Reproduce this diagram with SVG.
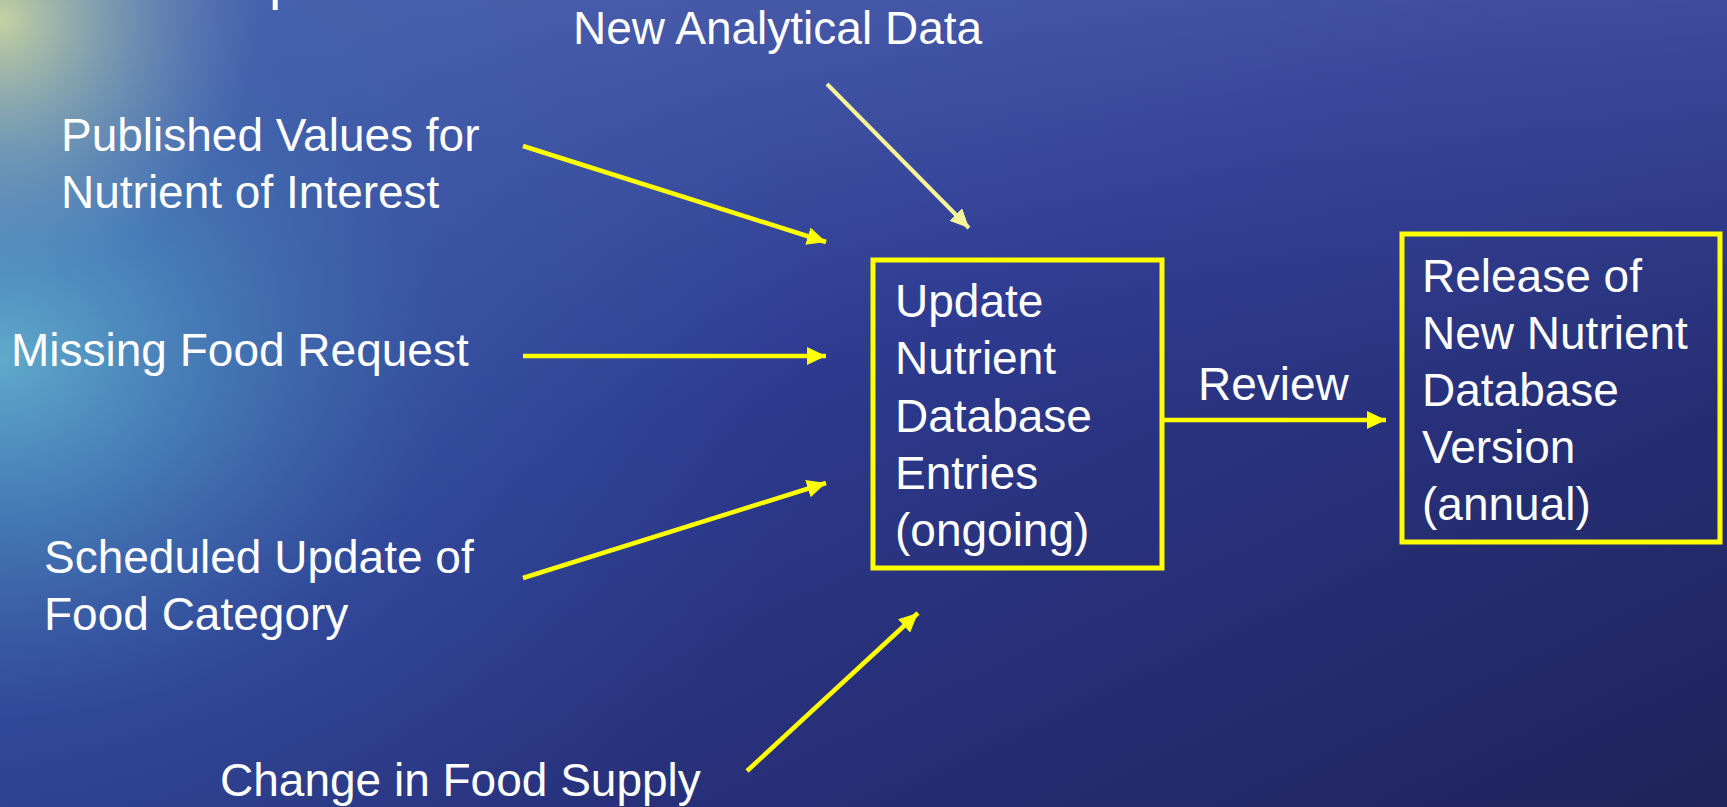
<svg xmlns="http://www.w3.org/2000/svg" width="1727" height="807" viewBox="0 0 1727 807">
  <defs>
    <linearGradient id="base" x1="0" y1="0" x2="1" y2="1">
      <stop offset="0" stop-color="#4a68b0"/>
      <stop offset="0.45" stop-color="#2d3a90"/>
      <stop offset="1" stop-color="#1f235a"/>
    </linearGradient>
    <linearGradient id="topsheen" x1="0" y1="0" x2="0" y2="1">
      <stop offset="0" stop-color="#5060b0" stop-opacity="0.5"/>
      <stop offset="0.5" stop-color="#3a4aa0" stop-opacity="0"/>
    </linearGradient>
    <radialGradient id="teal" cx="0" cy="360" r="820" gradientUnits="userSpaceOnUse" gradientTransform="translate(0,360) scale(1,0.8) translate(0,-360)">
      <stop offset="0" stop-color="#64b4d0" stop-opacity="0.9"/>
      <stop offset="0.25" stop-color="#4c92c2" stop-opacity="0.65"/>
      <stop offset="0.55" stop-color="#3a68ae" stop-opacity="0.3"/>
      <stop offset="1" stop-color="#3a60a8" stop-opacity="0"/>
    </radialGradient>
    <radialGradient id="glow" cx="0" cy="20" r="260" gradientUnits="userSpaceOnUse">
      <stop offset="0" stop-color="#ccd8a0" stop-opacity="0.95"/>
      <stop offset="0.5" stop-color="#9cbcb4" stop-opacity="0.5"/>
      <stop offset="1" stop-color="#80a0c0" stop-opacity="0"/>
    </radialGradient>
    <marker id="ah" markerUnits="userSpaceOnUse" markerWidth="20" markerHeight="18" refX="19" refY="9" orient="auto">
      <path d="M0,0 L19,9 L0,18 z" fill="#ffff00"/>
    </marker>
    <marker id="ahp" markerUnits="userSpaceOnUse" markerWidth="20" markerHeight="18" refX="19" refY="9" orient="auto">
      <path d="M0,0 L19,9 L0,18 z" fill="#f8f49c"/>
    </marker>
    <style>
      .t { font-family: "Liberation Sans", Arial, sans-serif; font-size: 46px; fill: #ffffff; }
      .box { fill: none; stroke: #ffff00; stroke-width: 5; }
      .ln { stroke: #ffff00; stroke-width: 4.5; fill: none; marker-end: url(#ah); }
      .lnp { stroke: #f8f49c; stroke-width: 4; fill: none; marker-end: url(#ahp); }
    </style>
  </defs>

  <rect x="0" y="0" width="1727" height="807" fill="url(#base)"/>
  <rect x="0" y="0" width="1727" height="807" fill="url(#topsheen)"/>
  <rect x="0" y="0" width="1727" height="807" fill="url(#teal)"/>
  <rect x="0" y="0" width="1727" height="807" fill="url(#glow)"/>

  <text class="t" x="269" y="-2" style="font-size:56px">p</text>

  <g id="connectors">
    <line class="lnp" x1="827" y1="84" x2="969" y2="228"/>
    <line class="ln" x1="523" y1="146" x2="826" y2="242"/>
    <line class="ln" x1="523" y1="356" x2="826" y2="356"/>
    <line class="ln" x1="523" y1="578" x2="826" y2="483"/>
    <line class="ln" x1="747" y1="771" x2="918" y2="613"/>
    <line class="ln" x1="1163" y1="420" x2="1386" y2="420"/>
  </g>

  <g id="label-review">
    <text class="t" x="1198" y="400">Review</text>
  </g>

  <g id="node-new-analytical">
    <text class="t" x="573" y="44">New Analytical Data</text>
  </g>
  <g id="node-published">
    <text class="t" x="61" y="151">Published Values for</text>
    <text class="t" x="61" y="208">Nutrient of Interest</text>
  </g>
  <g id="node-missing">
    <text class="t" x="11" y="366">Missing Food Request</text>
  </g>
  <g id="node-scheduled">
    <text class="t" x="44" y="573">Scheduled Update of</text>
    <text class="t" x="44" y="630">Food Category</text>
  </g>
  <g id="node-change">
    <text class="t" x="220" y="796">Change in Food Supply</text>
  </g>

  <g id="node-update">
    <rect class="box" x="873" y="260" width="289" height="308"/>
    <text class="t" x="895" y="317">Update</text>
    <text class="t" x="895" y="374">Nutrient</text>
    <text class="t" x="895" y="432">Database</text>
    <text class="t" x="895" y="489">Entries</text>
    <text class="t" x="895" y="546">(ongoing)</text>
  </g>

  <g id="node-release">
    <rect class="box" x="1402" y="234" width="318" height="308"/>
    <text class="t" x="1422" y="292">Release of</text>
    <text class="t" x="1422" y="349">New Nutrient</text>
    <text class="t" x="1422" y="406">Database</text>
    <text class="t" x="1422" y="463">Version</text>
    <text class="t" x="1422" y="520">(annual)</text>
  </g>
</svg>
